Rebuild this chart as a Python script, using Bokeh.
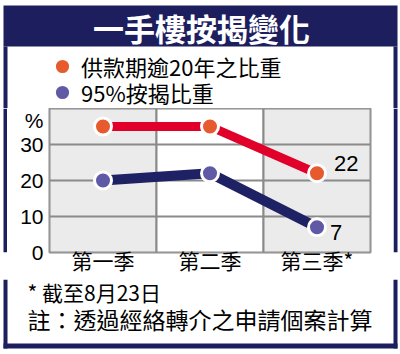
from bokeh.plotting import figure
from bokeh.layouts import column, row
from bokeh.models import (FactorRange, Range1d, FixedTicker, Label, BoxAnnotation,
                          Legend, LegendItem)
from bokeh.core.properties import value
from bokeh.embed import file_html
from bokeh.resources import INLINE

# ---- data ----
quarters = ["第一季", "第二季", "第三季*"]
long_tenor_share = [35, 35, 22]      # 供款期逾20年之比重 (%)
lvr95_share = [20, 22, 7]            # 95%按揭比重 (%)
series_names = ["供款期逾20年之比重", "95%按揭比重"]
y_ticks = [0, 10, 20, 30]
y_max = 40
unit_pos = 36.8
title_text = "一手樓按揭變化"
unit_text = "%"
footnote1 = "* 截至8月23日"
footnote2 = "註：透過經絡轉介之申請個案計算"

# ---- styles ----
CJK = "Noto Sans CJK TC"
NUM = "Liberation Sans"
NAVY = "#1d1e5e"
RED_LINE = "#e0002a"
BLUE_LINE = "#1f2165"
RED_DOT = "#e65a2e"
BLUE_DOT = "#6059a6"
GRID = "#8a8a8a"
col_fill = ["#ebebeb", "#ffffff", "#ebebeb"]


def blank(w, h, xr, yr):
    f = figure(width=w, height=h, x_range=xr, y_range=yr, output_backend="svg",
               toolbar_location=None, x_axis_location=None, y_axis_location=None,
               min_border=0)
    f.grid.visible = False
    f.outline_line_color = None
    f.background_fill_color = "white"
    f.border_fill_color = "white"
    return f


def box(f, l, r, t, b):
    f.add_layout(BoxAnnotation(left=l, right=r, top=t, bottom=b, fill_color=NAVY,
                               fill_alpha=1, line_color=None))


# ---------- top band (canvas y 0..108) ----------
TOP_H = 108
top = blank(400, TOP_H, Range1d(0, 400), Range1d(TOP_H, 0))
box(top, 3, 397, 5, 46)
box(top, 3, 7, 46, TOP_H)
box(top, 393, 397, 46, TOP_H)
top.add_layout(Label(x=201, y=27, text=title_text, text_font=CJK, text_font_style="bold",
                     text_font_size="31px", text_color="white", text_align="center",
                     text_baseline="middle"))
# legend swatches: renderers whose only point lies outside the visible band
leg_red = top.scatter(x=[-500], y=[-500], size=17, fill_color=RED_DOT, line_color="white",
                      line_width=2)
leg_blue = top.scatter(x=[-500], y=[-500], size=17, fill_color=BLUE_DOT, line_color="white",
                       line_width=2)
for rend, name, yc in ((leg_red, series_names[0], 66), (leg_blue, series_names[1], 92)):
    top.add_layout(Legend(items=[LegendItem(label=name, renderers=[rend])],
                          location=(43, TOP_H - yc - 19),
                          glyph_width=38, glyph_height=38, label_standoff=0, padding=0,
                          margin=0, spacing=0, border_line_color=None,
                          background_fill_alpha=0, label_text_font=CJK,
                          label_text_font_size="22px", label_text_color="black"))

# ---------- main chart (canvas y 108..279) ----------
MAIN_H = 144 + 27
p = figure(width=386, height=MAIN_H, x_range=FactorRange(*quarters), y_range=Range1d(0, y_max),
           output_backend="svg", toolbar_location=None,
           min_border_left=42, min_border_right=23, min_border_top=0, min_border_bottom=27)
p.border_fill_color = "white"
p.background_fill_color = "white"
p.outline_line_color = GRID
p.outline_line_width = 2

bg = p.vbar(x=quarters, top=y_max, bottom=0, width=1, fill_color=col_fill,
            line_color=GRID, line_width=2)
bg.level = "image"

p.xgrid.grid_line_color = None
p.ygrid.ticker = FixedTicker(ticks=y_ticks)
p.ygrid.grid_line_color = GRID
p.ygrid.grid_line_width = 2

for ax in (p.xaxis, p.yaxis):
    ax.axis_line_color = None
    ax.major_tick_line_color = None
    ax.minor_tick_line_color = None
    ax.major_tick_out = 0
    ax.major_tick_in = 0
    ax.minor_tick_out = 0
    ax.major_label_text_color = "black"

p.xaxis.major_label_text_font = CJK
p.xaxis.major_label_text_font_size = "21px"
p.xaxis.major_label_standoff = -8

p.yaxis.ticker = FixedTicker(ticks=y_ticks + [unit_pos])
p.yaxis.major_label_overrides = {unit_pos: unit_text}
p.yaxis.major_label_text_font = NUM
p.yaxis.major_label_text_font_size = "21px"
p.yaxis.major_label_standoff = 6

p.line(quarters, long_tenor_share, line_color=RED_LINE, line_width=9, line_join="round")
p.line(quarters, lvr95_share, line_color=BLUE_LINE, line_width=10, line_join="round")
p.scatter(quarters, long_tenor_share, size=17, fill_color=RED_DOT, line_color="white", line_width=3)
p.scatter(quarters, lvr95_share, size=17, fill_color=BLUE_DOT, line_color="white", line_width=3)

p.text(x=[quarters[-1]], y=[long_tenor_share[-1]], text=[str(long_tenor_share[-1])],
       x_offset=17, y_offset=-10, text_font=value(NUM), text_font_size="22px",
       text_baseline="middle", text_align="left", text_color="black")
p.text(x=[quarters[-1]], y=[lvr95_share[-1]], text=[str(lvr95_share[-1])],
       x_offset=13, y_offset=5, text_font=value(NUM), text_font_size="22px",
       text_baseline="middle", text_align="left", text_color="black")

left_strip = blank(7, MAIN_H, Range1d(0, 7), Range1d(0, 1))
box(left_strip, 3, 7, None, None)
right_strip = blank(7, MAIN_H, Range1d(0, 7), Range1d(0, 1))
box(right_strip, 0, 4, None, None)

# ---------- bottom band ----------
BOT_TOP = TOP_H + MAIN_H
bot = blank(400, 354 - BOT_TOP, Range1d(0, 400), Range1d(354, BOT_TOP))
box(bot, 3, 7, BOT_TOP, 348)
box(bot, 393, 397, BOT_TOP, 348)
box(bot, 3, 397, 343, 348)
bot.add_layout(Label(x=27, y=291, text=footnote1, text_font=CJK, text_font_size="21px",
                     text_color="black", text_align="left", text_baseline="middle"))
bot.add_layout(Label(x=27, y=318, text=footnote2, text_font=CJK, text_font_size="23px",
                     text_color="black", text_align="left", text_baseline="middle"))

layout = column(top, row(left_strip, p, right_strip, spacing=0), bot, spacing=0)
open("out.html", "w").write(file_html(layout, INLINE))
